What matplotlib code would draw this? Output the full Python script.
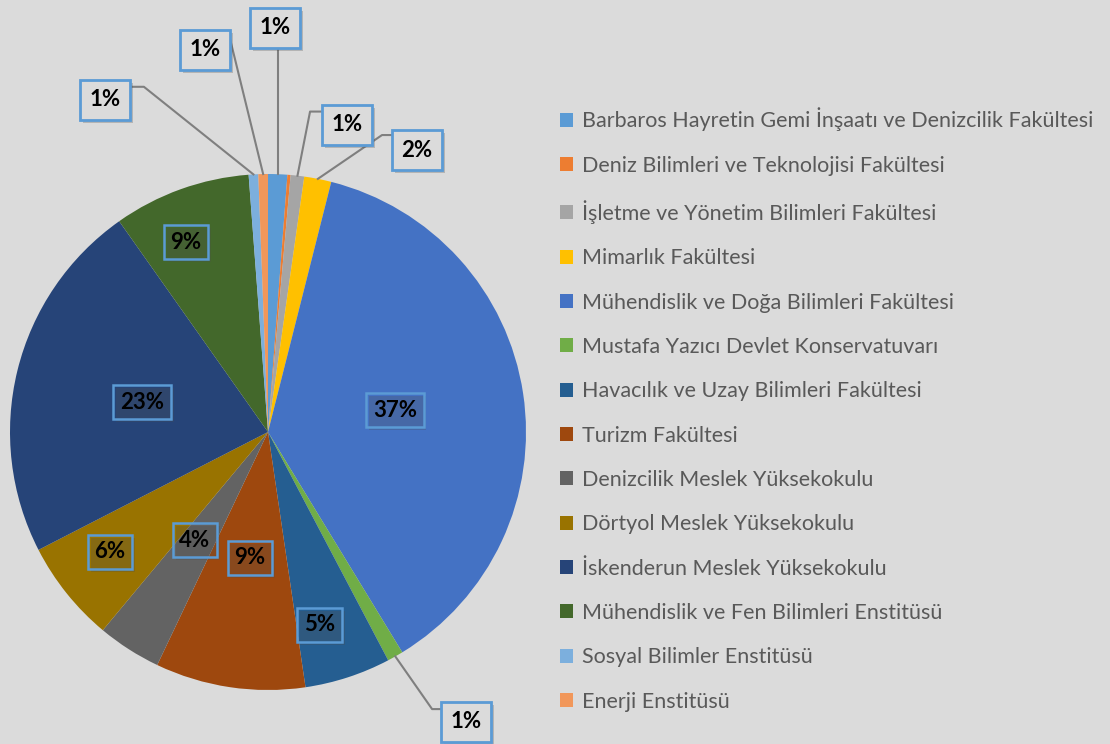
import numpy as np
import matplotlib.pyplot as plt
import matplotlib.patheffects as pe
from matplotlib.patches import Patch

# birimler ve oranlari (%)
units = ['Barbaros Hayretin Gemi İnşaatı ve Denizcilik Fakültesi',
         'Deniz Bilimleri ve Teknolojisi Fakültesi',
         'İşletme ve Yönetim Bilimleri Fakültesi',
         'Mimarlık Fakültesi',
         'Mühendislik ve Doğa Bilimleri Fakültesi',
         'Mustafa Yazıcı Devlet Konservatuvarı',
         'Havacılık ve Uzay Bilimleri Fakültesi',
         'Turizm Fakültesi',
         'Denizcilik Meslek Yüksekokulu',
         'Dörtyol Meslek Yüksekokulu',
         'İskenderun Meslek Yüksekokulu',
         'Mühendislik ve Fen Bilimleri Enstitüsü',
         'Sosyal Bilimler Enstitüsü',
         'Enerji Enstitüsü']
shares = [1.2, 0.2, 0.85, 1.7, 37.4, 1.0, 5.4, 9.4, 4.0, 6.4, 22.8, 8.6, 0.6, 0.6]
colors = ['#5B9BD5', '#ED7D31', '#A5A5A5', '#FFC000', '#4472C4', '#70AD47',
          '#255E91', '#9E480E', '#636363', '#997300', '#264478', '#43682B',
          '#7CAFDD', '#F1975A']

# etiket konumlari (veri koordinati), None = etiket yok
label_pos = [(0.027, 1.566), None, (0.306, 1.19), (0.578, 1.093),
             (0.492, 0.085), (0.767, -1.124), (0.20, -0.748), (-0.07, -0.488),
             (-0.283, -0.419), (-0.612, -0.465), (-0.488, 0.116), (-0.318, 0.736),
             (-0.632, 1.287), (-0.244, 1.481)]
# disaridaki etiketler icin cizgi kirilma noktasi
elbow = {0: None, 2: (0.163, 1.242), 3: (0.442, 1.151), 5: (0.636, -1.074),
         12: (-0.481, 1.338), 13: (-0.147, 1.523)}
inside = (4, 6, 7, 8, 9, 10, 11)

bg = '#dbdbdb'
plt.rcParams['font.family'] = ['Lato', 'DejaVu Sans']

fig = plt.figure(figsize=(11.1, 7.44), dpi=100, facecolor=bg)
ax = fig.add_axes([10 / 1110, 54 / 744, 516 / 1110, 516 / 744])
ax.set_facecolor(bg)

wedges, _ = ax.pie(shares, colors=colors, startangle=90, counterclock=False,
                   radius=1, wedgeprops=dict(linewidth=0))
ax.set_xlim(-1, 1)
ax.set_ylim(-1, 1)
ax.set_aspect('equal')
ax.axis('off')

total = sum(shares)
for i, (w, v) in enumerate(zip(wedges, shares)):
    pos = label_pos[i]
    if pos is None:
        continue
    txt = f'{int(np.floor(v / total * 100 + 0.5))}%'
    if i in inside:
        box = dict(boxstyle='square,pad=0.3', fc='none', ec='#5B9BD5', lw=1.8)
    else:
        box = dict(boxstyle='square,pad=0.42', fc=bg, ec='#5B9BD5', lw=2)
    t = ax.text(pos[0], pos[1], txt, ha='center', va='center', fontsize=16,
                fontweight='bold', color='black', zorder=5, clip_on=False, bbox=box)
    t.get_bbox_patch().set_path_effects([pe.SimplePatchShadow(offset=(2, -2), alpha=0.25), pe.Normal()])
    if i in elbow:
        ang = np.deg2rad((w.theta1 + w.theta2) / 2)
        edge = (np.cos(ang), np.sin(ang))
        if elbow[i] is None:
            xs = [edge[0], edge[0]]
            ys = [edge[1], pos[1] - 0.07]
        else:
            box_x = pos[0] - 0.095 if pos[0] > edge[0] else pos[0] + 0.095
            xs = [edge[0], elbow[i][0], box_x]
            ys = [edge[1], elbow[i][1], elbow[i][1]]
        ax.plot(xs, ys, color='#7f7f7f', lw=1.5, zorder=4, clip_on=False)

handles = [Patch(facecolor=c, edgecolor='none') for c in colors]
fig.legend(handles, units, loc='upper left', bbox_to_anchor=(551 / 1110, 1 - 99 / 744),
           frameon=False, fontsize=15.5, labelcolor='#595959', handlelength=0.62,
           handleheight=0.62, handletextpad=0.4, labelspacing=1.13, borderaxespad=0)

plt.savefig('out.png', dpi=100, facecolor=bg)
